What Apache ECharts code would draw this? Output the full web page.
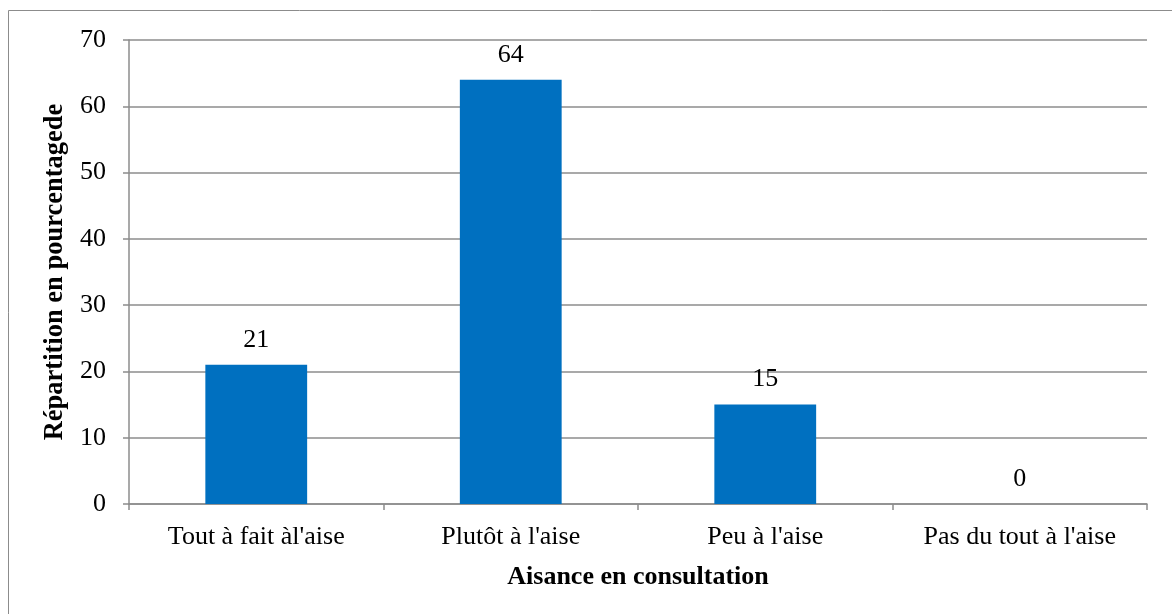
<!DOCTYPE html>
<html>
<head>
<meta charset="utf-8">
<script src="https://cdn.jsdelivr.net/npm/echarts@6/dist/echarts.min.js"></script>
<style>
  html, body { margin: 0; padding: 0; background: #fff; }
  #chart { width: 1172px; height: 614px; }
</style>
</head>
<body>
<div id="chart"></div>
<script>
// Comfort level during consultation, share of respondents (%)
const categories = ["Tout à fait àl'aise", "Plutôt à l'aise", "Peu à l'aise", "Pas du tout à l'aise"];
const values = [21, 64, 15, 0];
const yTicks = [0, 10, 20, 30, 40, 50, 60, 70];

const font = '"Liberation Serif", "Times New Roman", serif';
const gray = '#8c8c8c';

const chart = echarts.init(document.getElementById('chart'), null, { renderer: 'canvas' });
chart.setOption({
  animation: false,
  backgroundColor: '#fff',
  graphic: [{
    type: 'rect',
    shape: { x: 8.5, y: 10.5, width: 1200, height: 700 },
    style: { fill: 'none', stroke: '#8c8c8c', lineWidth: 1 },
    silent: true
  }],
  grid: { left: 129, right: 25, top: 40, bottom: 110, containLabel: false },
  xAxis: {
    type: 'category',
    data: categories,
    name: 'Aisance en consultation',
    nameLocation: 'middle',
    nameGap: 60,
    nameTextStyle: { fontFamily: font, fontSize: 26, fontWeight: 'bold', color: '#000' },
    axisLine: { lineStyle: { color: gray, width: 1.5 } },
    axisTick: { show: true, alignWithLabel: false, length: 6, lineStyle: { color: gray, width: 1.5 } },
    axisLabel: { fontFamily: font, fontSize: 26, color: '#000', margin: 20 }
  },
  yAxis: {
    type: 'value',
    min: yTicks[0],
    max: yTicks[yTicks.length - 1],
    interval: 10,
    name: 'Répartition en pourcentagede',
    nameLocation: 'middle',
    nameGap: 56,
    nameRotate: 90,
    nameTextStyle: { fontFamily: font, fontSize: 26.5, fontWeight: 'bold', color: '#000' },
    axisLine: { show: true, lineStyle: { color: gray, width: 1.5 } },
    axisTick: { show: true, length: 6, lineStyle: { color: gray, width: 1.5 } },
    axisLabel: { fontFamily: font, fontSize: 26, color: '#000', margin: 23 },
    splitLine: { show: true, lineStyle: { color: gray, width: 1.5 } }
  },
  series: [{
    type: 'bar',
    data: values,
    barWidth: '40%',
    itemStyle: { color: '#0070C0' },
    label: {
      show: true,
      position: 'top',
      distance: 12,
      fontFamily: font,
      fontSize: 26,
      color: '#000'
    }
  }]
});
</script>
</body>
</html>
